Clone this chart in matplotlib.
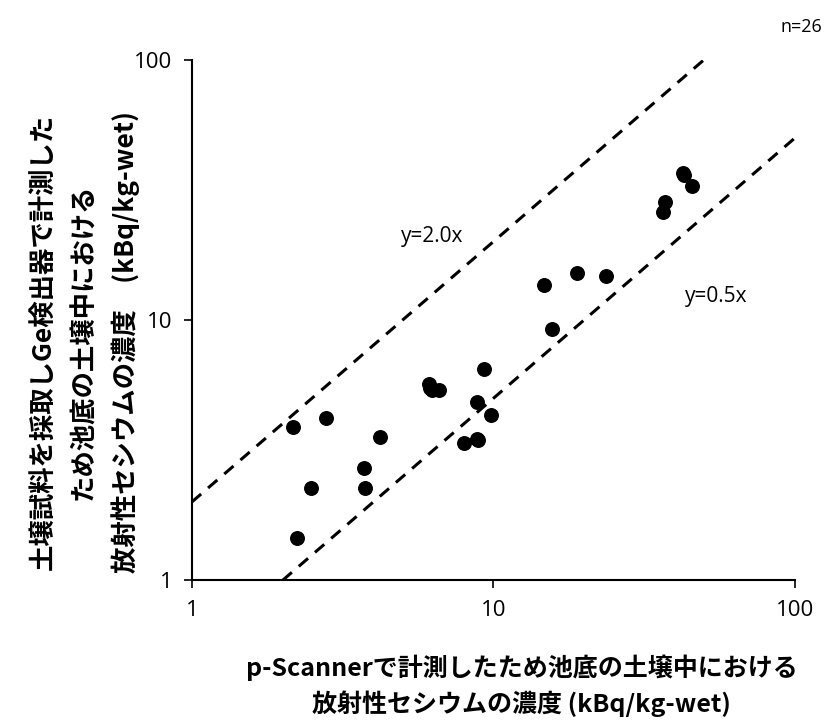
import numpy as np
import matplotlib
matplotlib.use("Agg")
import matplotlib.pyplot as plt

plt.rcParams["font.family"] = ["Noto Sans CJK JP", "DejaVu Sans"]

# p-Scanner values (x) and Ge detector values (y), kBq/kg-wet
pscan = [2.17, 2.78, 2.48, 2.24, 4.20, 3.73, 3.75, 6.12, 6.28, 6.61, 6.18,
         9.30, 8.80, 9.81, 7.98, 8.80, 8.90, 14.7, 18.9, 23.7, 15.7,
         36.6, 37.2, 42.6, 43.0, 45.6]
ge = [3.89, 4.22, 2.27, 1.45, 3.56, 2.70, 2.27, 5.66, 5.38, 5.38, 5.50,
      6.48, 4.85, 4.30, 3.38, 3.48, 3.45, 13.6, 15.2, 14.8, 9.23,
      25.9, 28.4, 36.8, 36.0, 32.8]

line2_x = [1, 50]
line05_x = [2, 100]

xlabel = "p-Scannerで計測したため池底の土壌中における\n放射性セシウムの濃度 (kBq/kg-wet)"
ylabel = "土壌試料を採取しGe検出器で計測した\nため池底の土壌中における\n放射性セシウムの濃度　(kBq/kg-wet)"

latin = ["Open Sans", "DejaVu Sans"]

fig = plt.figure(figsize=(8.27, 7.2), dpi=100)
ax = fig.add_axes([0.232, 0.194, 0.729, 0.723])

ax.plot(line2_x, [2 * v for v in line2_x], "k--", lw=2.2, dashes=(4, 3))
ax.plot(line05_x, [0.5 * v for v in line05_x], "k--", lw=2.2, dashes=(4, 3))
ax.scatter(pscan, ge, s=95, color="black", zorder=3)

ax.set_xscale("log")
ax.set_yscale("log")
ax.set_xlim(1, 100)
ax.set_ylim(1, 100)
ax.set_xticks([1, 10, 100])
ax.set_xticklabels(["1", "10", "100"])
ax.set_yticks([1, 10, 100])
ax.set_yticklabels(["1", "10", "100"])
ax.minorticks_off()
ax.tick_params(direction="out", length=6, width=1.2, labelsize=16, pad=8)
for lab in ax.get_xticklabels() + ax.get_yticklabels():
    lab.set_family(latin)

ax.spines["top"].set_visible(False)
ax.spines["right"].set_visible(False)
ax.spines["left"].set_linewidth(1.5)
ax.spines["bottom"].set_linewidth(1.5)

ax.text(6.25, 20.9, "y=2.0x", ha="center", va="center", fontsize=15, family=latin)
ax.text(55, 12.3, "y=0.5x", ha="center", va="center", fontsize=15, family=latin)

fig.text(0.994, 0.962, "n=26", ha="right", va="center", fontsize=13, family=latin)

fig.text(0.631, 0.048, xlabel, ha="center", va="center", fontsize=18,
         fontweight="bold", linespacing=1.45)
fig.text(0.103, 0.525, ylabel, ha="center", va="center", fontsize=19,
         fontweight="bold", rotation=90, linespacing=1.6)

fig.savefig("out.png", dpi=100)
